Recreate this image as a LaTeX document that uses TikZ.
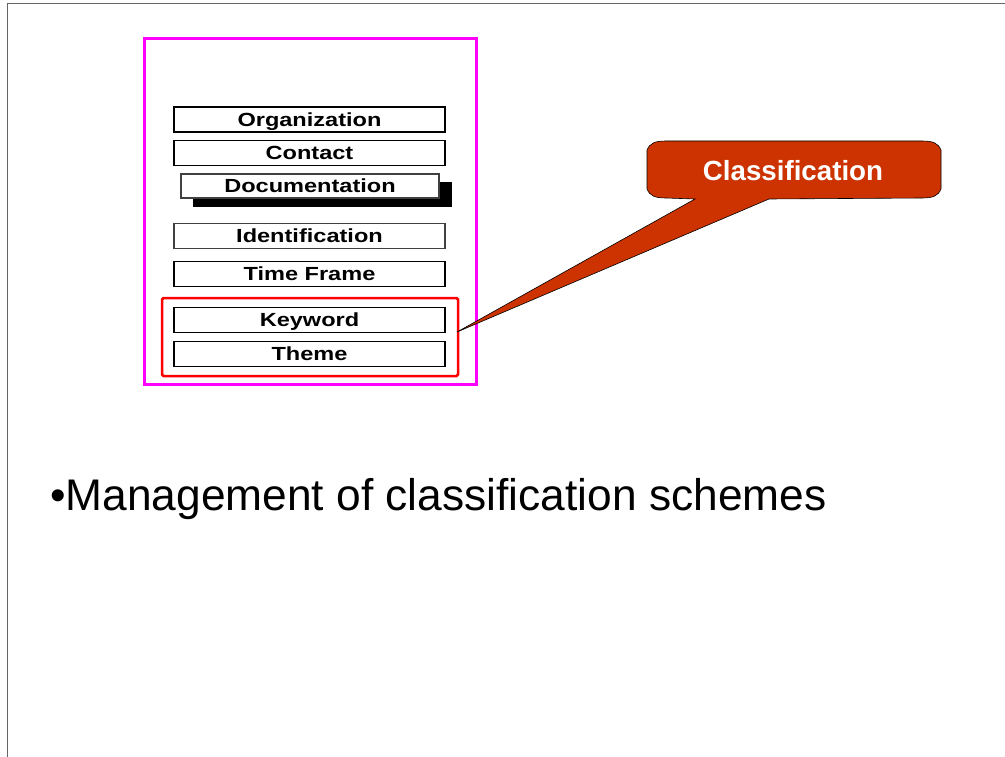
\documentclass[tikz,border=0pt]{standalone}
\usepackage{fontspec}
\setmainfont{Liberation Sans}
\usepackage{graphicx}
\definecolor{callred}{HTML}{CC3300}
\definecolor{framegray}{HTML}{666666}
\definecolor{pinkmag}{HTML}{FF00FF}
\definecolor{pured}{HTML}{FF0000}
\newcommand{\fieldtxt}[1]{\scalebox{1.24}[1]{\fontsize{19}{19}\selectfont\bfseries #1}}
\begin{document}
\begin{tikzpicture}[x=1pt,y=-1pt,
  field/.style={draw=black,line width=1.2pt,fill=white,minimum width=271pt,minimum height=25pt,inner sep=0pt,text height=13.6pt,text depth=0pt},
  lightfield/.style={field,draw=black!75},
  shadowbox/.style={fill=black,draw=none,minimum width=259pt,minimum height=25pt,inner sep=0pt},
  groupbox/.style={draw=pinkmag,line width=3pt,minimum width=332pt,minimum height=345pt,inner sep=0pt},
  redbox/.style={draw=pured,line width=2.5pt,rounded corners=1.5pt,minimum width=296pt,minimum height=78pt,inner sep=0pt},
  callout/.style={fill=callred,draw=black,line width=0.6pt},
  calltext/.style={text=white,font=\fontsize{27.7}{27.7}\selectfont\bfseries,inner sep=0pt},
  bullettext/.style={anchor=base west,inner sep=0pt,font=\fontsize{44.3}{44.3}\selectfont}
]
\useasboundingbox (0,0) rectangle (1005,757);
\fill[white] (0,0) rectangle (1005,757);
\draw[framegray,line width=1pt] (7,757) -- (7,4) -- (1005,4);

\node[groupbox] (group) at (310,211.5) {};
\node[redbox] (cls) at (310,337) {};

\node[field] (org) at (309.5,119.5) {\fieldtxt{Organization}};
\node[field] (contact) at (309.5,153) {\fieldtxt{Contact}};
\node[shadowbox] (docshadow) at (322.5,194.5) {};
\node[lightfield,minimum width=258pt,minimum height=24pt] (doc) at (310,186) {\fieldtxt{Documentation}};
\node[lightfield] (ident) at (309.5,236) {\fieldtxt{Identification}};
\node[field] (time) at (309.5,274) {\fieldtxt{Time Frame}};
\node[field] (kw) at (309.5,320) {\fieldtxt{Keyword}};
\node[field] (theme) at (309.5,354) {\fieldtxt{Theme}};

\coordinate (tip) at (457,332);
\draw[callout] (647,150) .. controls (650,143) and (655,141) .. (666,141) -- (922,141) .. controls (933,141) and (938,143) .. (941,150) -- (941,189) .. controls (938,196) and (933,198) .. (922,198) -- (769,199) -- (tip) -- (695,199) -- (666,198) .. controls (655,198) and (650,196) .. (647,189) -- cycle;
\node[calltext] (calllabel) at (793,171) {Classification};

\node[bullettext] (bullet) at (50,510) {•Management of classification schemes};
\end{tikzpicture}
\end{document}
